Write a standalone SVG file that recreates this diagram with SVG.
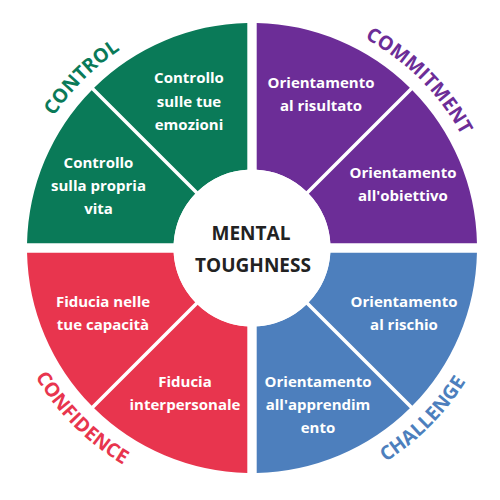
<svg xmlns="http://www.w3.org/2000/svg" xmlns:xlink="http://www.w3.org/1999/xlink" width="500" height="500" viewBox="0 0 500 500">
<style>
.in{font-family:"Open Sans","Liberation Sans",sans-serif;font-weight:700;font-size:15px;fill:#ffffff;text-anchor:middle}
.lab{font-family:"Open Sans","Liberation Sans",sans-serif;font-weight:700;font-size:19.5px;text-anchor:middle}
.mid{font-family:"Open Sans","Liberation Sans",sans-serif;font-weight:700;font-size:19px;fill:#222222;text-anchor:middle}
.g{fill:#0a7a58}.p{fill:#6c2d97}.r{fill:#e8354e}.b{fill:#4d7fbd}
</style>
<defs>
<path id="arcControl" d="M 14.91 227.26 A 238 238 0 0 1 231.26 10.91"/>
<path id="arcCommit" d="M 272.74 10.91 A 238 238 0 0 1 489.09 227.26"/>
<path id="arcConf" d="M 0.96 269.96 A 252 252 0 0 0 230.04 499.04"/>
<path id="arcChal" d="M 273.96 499.04 A 252 252 0 0 0 503.04 269.96"/>
</defs>
<rect width="500" height="500" fill="#ffffff"/>
<g id="control-emozioni">
<path class="g" d="M 247.3 23.05 A 225 225 0 0 0 94.14 87.67 L 197.75 191.27 A 78.5 78.5 0 0 1 247.3 169.64 Z"/>
<text class="in" x="189" y="83">Controllo</text>
<text class="in" x="189" y="106.5">sulle tue</text>
<text class="in" x="189" y="130">emozioni</text>
</g>
<g id="control-vita">
<path class="g" d="M 91.67 90.14 A 225 225 0 0 0 27.05 243.3 L 173.64 243.3 A 78.5 78.5 0 0 1 195.27 193.75 Z"/>
<text class="in" x="98.5" y="168">Controllo</text>
<text class="in" x="98.5" y="191">sulla propria</text>
<text class="in" x="98.5" y="214">vita</text>
</g>
<g id="commit-risultato">
<path class="p" d="M 256.7 23.05 A 225 225 0 0 1 409.86 87.67 L 306.25 191.27 A 78.5 78.5 0 0 0 256.7 169.64 Z"/>
<text class="in" x="321" y="88">Orientamento</text>
<text class="in" x="321" y="111">al risultato</text>
</g>
<g id="commit-obiettivo">
<path class="p" d="M 412.33 90.14 A 225 225 0 0 1 476.95 243.3 L 330.36 243.3 A 78.5 78.5 0 0 0 308.73 193.75 Z"/>
<text class="in" x="403" y="178">Orientamento</text>
<text class="in" x="403" y="201">all'obiettivo</text>
</g>
<g id="conf-capacita">
<path class="r" d="M 27.05 252.7 A 225 225 0 0 0 91.67 405.86 L 195.27 302.25 A 78.5 78.5 0 0 1 173.64 252.7 Z"/>
<text class="in" x="103" y="307">Fiducia nelle</text>
<text class="in" x="103" y="330">tue capacità</text>
</g>
<g id="conf-interpersonale">
<path class="r" d="M 94.14 408.33 A 225 225 0 0 0 247.3 472.95 L 247.3 326.36 A 78.5 78.5 0 0 1 197.75 304.73 Z"/>
<text class="in" x="185" y="386.5">Fiducia</text>
<text class="in" x="185" y="409.5">interpersonale</text>
</g>
<g id="chal-rischio">
<path class="b" d="M 476.95 252.7 A 225 225 0 0 1 412.33 405.86 L 308.73 302.25 A 78.5 78.5 0 0 0 330.36 252.7 Z"/>
<text class="in" x="404" y="306.5">Orientamento</text>
<text class="in" x="404" y="329.5">al rischio</text>
</g>
<g id="chal-apprendimento">
<path class="b" d="M 409.86 408.33 A 225 225 0 0 1 256.7 472.95 L 256.7 326.36 A 78.5 78.5 0 0 0 306.25 304.73 Z"/>
<text class="in" x="318" y="386.5">Orientamento</text>
<text class="in" x="318" y="409.5">all'apprendim</text>
<text class="in" x="318" y="433">ento</text>
</g>
<g id="center">
<circle cx="252" cy="248" r="78.5" fill="#ffffff"/>
<text class="mid" x="251" y="240">MENTAL</text>
<text class="mid" x="253" y="272">TOUGHNESS</text>
</g>
<g id="labels">
<text class="lab" fill="#0a7a58"><textPath xlink:href="#arcControl" href="#arcControl" startOffset="50%">CONTROL</textPath></text>
<text class="lab" fill="#6c2d97"><textPath xlink:href="#arcCommit" href="#arcCommit" startOffset="50%">COMMITMENT</textPath></text>
<text class="lab" fill="#e8354e"><textPath xlink:href="#arcConf" href="#arcConf" startOffset="50%">CONFIDENCE</textPath></text>
<text class="lab" fill="#4d7fbd"><textPath xlink:href="#arcChal" href="#arcChal" startOffset="50%">CHALLENGE</textPath></text>
</g>
<g id="connectors"></g>
</svg>
